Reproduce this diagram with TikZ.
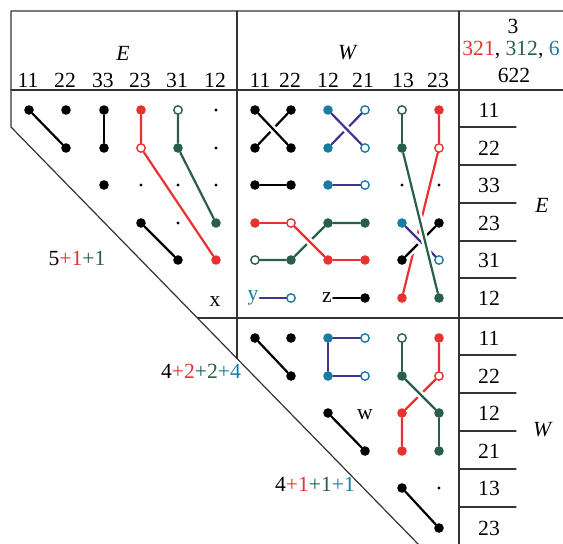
\documentclass[tikz,border=0pt]{standalone}
\usepackage{fontspec}
\setmainfont{Liberation Serif}
\definecolor{dred}{RGB}{232,50,50}
\definecolor{dgreen}{RGB}{40,95,72}
\definecolor{dteal}{RGB}{26,124,160}
\definecolor{dblue}{RGB}{62,52,146}

\begin{document}
\begin{tikzpicture}[x=0.5pt,y=-0.5pt,line cap=round,line join=round,
  dotf/.style={circle,fill=#1,inner sep=0pt,minimum size=4.8pt},
  doto/.style={circle,draw=#1,fill=white,line width=0.7pt,inner sep=0pt,minimum size=4.2pt},
  tiny/.style={circle,fill=black,inner sep=0pt,minimum size=1.7pt},
  lnk/.style={line width=1.1pt,draw=#1},
  over/.style={preaction={draw=white,line width=3.6pt,shorten >=2.5pt,shorten <=2.5pt}},
  rule/.style={line width=0.6pt,black!80},
  lab/.style={font=\fontsize{10.8}{13}\selectfont,inner sep=0.5pt},
  ilab/.style={font=\fontsize{10.8}{13}\selectfont\itshape,inner sep=0.5pt}]
\useasboundingbox (0,0) rectangle (563,543);
% frame
\draw[rule] (563,11)--(11,11)--(11,127)--(420,546);
\draw[rule] (11,90)--(563,90);
\draw[rule] (197.4,318)--(563,318);
\draw[rule] (237,11)--(237,358.6);
\draw[rule] (459,11)--(459,546);
\foreach \y in {127,165,203,241,278,355,393,431,469,507}{\draw[rule] (459,\y)--(516,\y);}
% headers
\node[ilab] (hE) at (123,53) {E};
\node[ilab] (hW) at (347,53) {W};
\foreach \x/\t in {28/11,65/22,103/33,140/23,177/31,215/12}{\node[lab] (he\t) at (\x,80) {\t};}
\foreach \x/\t in {260/11,290/22,328/12,363/21,403/13,438/23}{\node[lab] (hw\t) at (\x,80) {\t};}
\node[lab] (h3) at (513,26) {3};
\node[lab,anchor=west] (hcol) at (461,50) {\textcolor{dred}{321}, \textcolor{dgreen}{312}, \textcolor{dteal}{6}};
\node[lab] (h622) at (514,75) {622};
\foreach \y/\t in {110/11,148/22,185/33,223/23,260/31,298/12}{\node[lab] (rE\t) at (489,\y) {\t};}
\foreach \y/\t in {338/11,376/22,413/12,451/21,488/13,528/23}{\node[lab] (rW\t) at (489,\y) {\t};}
\node[ilab] (rE) at (542,205) {E};
\node[ilab] (rW) at (542,430) {W};
% E x E block
\node[dotf=black] (EE-1-1) at (29,110) {};
\node[dotf=black] (EE-2-1) at (66,110) {};
\node[dotf=black] (EE-2-2) at (66,148) {};
\node[dotf=black] (EE-3-1) at (104,110) {};
\node[dotf=black] (EE-3-2) at (104,148) {};
\node[dotf=black] (EE-3-3) at (104,185) {};
\node[dotf=dred] (EE-4-1) at (141,110) {};
\node[doto=dred] (EE-4-2) at (141,148) {};
\node[tiny] (EE-4-3) at (141,185) {};
\node[dotf=black] (EE-4-4) at (141,223) {};
\node[doto=dgreen] (EE-5-1) at (178,110) {};
\node[dotf=dgreen] (EE-5-2) at (178,148) {};
\node[tiny] (EE-5-3) at (178,185) {};
\node[tiny] (EE-5-4) at (178,223) {};
\node[dotf=black] (EE-5-5) at (178,260) {};
\foreach \r/\y in {1/110,2/148,3/185}{\node[tiny] (EE-6-\r) at (216,\y) {};}
\node[dotf=dgreen] (EE-6-4) at (216,223) {};
\node[dotf=dred] (EE-6-5) at (216,260) {};
\node[lab] (xlab) at (215,302) {x};
\draw[lnk=black] (EE-1-1)--(EE-2-2);
\draw[lnk=black] (EE-3-1)--(EE-3-2);
\draw[lnk=black] (EE-4-4)--(EE-5-5);
\draw[lnk=dred] (EE-4-1)--(EE-4-2)--(EE-6-5);
\draw[lnk=dgreen] (EE-5-1)--(EE-5-2)--(EE-6-4);
\node[lab] (sumE) at (77,258) {5\textcolor{dred}{+1}\textcolor{dgreen}{+1}};
% W x E block
\node[dotf=black] (WE-1-1) at (255,110) {};
\node[dotf=black] (WE-2-1) at (291,110) {};
\node[dotf=black] (WE-1-2) at (255,148) {};
\node[dotf=black] (WE-2-2) at (291,148) {};
\node[dotf=black] (WE-1-3) at (255,185) {};
\node[dotf=black] (WE-2-3) at (291,185) {};
\node[dotf=dred] (WE-1-4) at (255,223) {};
\node[doto=dred] (WE-2-4) at (291,223) {};
\node[dotf=dred] (WE-3-5) at (328,260) {};
\node[dotf=dred] (WE-4-5) at (365,260) {};
\node[doto=dgreen] (WE-1-5) at (255,260) {};
\node[dotf=dgreen] (WE-2-5) at (291,260) {};
\node[dotf=dgreen] (WE-3-4) at (328,223) {};
\node[dotf=dgreen] (WE-4-4) at (365,223) {};
\node[lab,text=dteal] (ylab) at (253,298) {y};
\node[doto=dteal] (WE-2-6) at (291,298) {};
\node[lab] (zlab) at (327,298) {z};
\node[dotf=black] (WE-4-6) at (365,298) {};
\node[dotf=dteal] (WE-3-1) at (328,110) {};
\node[doto=dteal] (WE-4-1) at (365,110) {};
\node[dotf=dteal] (WE-3-2) at (328,148) {};
\node[doto=dteal] (WE-4-2) at (365,148) {};
\node[dotf=dteal] (WE-3-3) at (328,185) {};
\node[doto=dteal] (WE-4-3) at (365,185) {};
\node[doto=dgreen] (WE-5-1) at (402,110) {};
\node[dotf=dgreen] (WE-5-2) at (402,148) {};
\node[dotf=dred] (WE-6-1) at (439,110) {};
\node[doto=dred] (WE-6-2) at (439,148) {};
\node[tiny] (WE-5-3) at (402,185) {};
\node[tiny] (WE-6-3) at (439,185) {};
\node[dotf=dteal] (WE-5-4) at (402,223) {};
\node[dotf=black] (WE-6-4) at (439,223) {};
\node[dotf=black] (WE-5-5) at (402,260) {};
\node[doto=dteal] (WE-6-5) at (439,260) {};
\node[dotf=dred] (WE-5-6) at (402,298) {};
\node[dotf=dgreen] (WE-6-6) at (439,298) {};
\draw[lnk=black] (WE-1-2)--(WE-2-1);
\draw[lnk=black,over] (WE-1-1)--(WE-2-2);
\draw[lnk=black] (WE-1-3)--(WE-2-3);
\draw[lnk=dblue] (WE-3-2)--(WE-4-1);
\draw[lnk=dblue,over] (WE-3-1)--(WE-4-2);
\draw[lnk=dblue] (WE-3-3)--(WE-4-3);
\draw[lnk=dgreen] (WE-1-5)--(WE-2-5)--(WE-3-4)--(WE-4-4);
\draw[lnk=dred,over] (WE-1-4)--(WE-2-4);
\draw[lnk=dred,over] (WE-2-4)--(WE-3-5);
\draw[lnk=dred] (WE-3-5)--(WE-4-5);
\draw[lnk=dblue] (ylab)--(WE-2-6);
\draw[lnk=black] (zlab)--(WE-4-6);
\draw[lnk=dred] (WE-6-1)--(WE-6-2)--(WE-5-6);
\draw[lnk=black,over] (WE-5-5)--(WE-6-4);
\draw[lnk=dblue,over] (WE-5-4)--(WE-6-5);
\draw[lnk=dgreen] (WE-5-1)--(WE-5-2);
\draw[lnk=dgreen,over] (WE-5-2)--(WE-6-6);
% W x W block
\node[dotf=black] (WW-1-1) at (255,338) {};
\node[dotf=black] (WW-2-1) at (291,338) {};
\node[dotf=black] (WW-2-2) at (291,376) {};
\node[dotf=dteal] (WW-3-1) at (328,338) {};
\node[doto=dteal] (WW-4-1) at (365,338) {};
\node[dotf=dteal] (WW-3-2) at (328,376) {};
\node[doto=dteal] (WW-4-2) at (365,376) {};
\node[dotf=black] (WW-3-3) at (328,413) {};
\node[dotf=black] (WW-4-4) at (365,451) {};
\node[lab] (wlab) at (365,415) {w};
\node[doto=dgreen] (WW-5-1) at (402,338) {};
\node[dotf=dgreen] (WW-5-2) at (402,376) {};
\node[dotf=dgreen] (WW-6-3) at (439,413) {};
\node[dotf=dgreen] (WW-6-4) at (439,451) {};
\node[dotf=dred] (WW-6-1) at (439,338) {};
\node[doto=dred] (WW-6-2) at (439,376) {};
\node[dotf=dred] (WW-5-3) at (402,413) {};
\node[dotf=dred] (WW-5-4) at (402,451) {};
\node[dotf=black] (WW-5-5) at (402,488) {};
\node[tiny] (WW-6-5) at (439,488) {};
\node[dotf=black] (WW-6-6) at (439,528) {};
\draw[lnk=black] (WW-1-1)--(WW-2-2);
\draw[lnk=dblue] (WW-4-1)--(WW-3-1)--(WW-3-2)--(WW-4-2);
\draw[lnk=black] (WW-3-3)--(WW-4-4);
\draw[lnk=dred] (WW-6-1)--(WW-6-2)--(WW-5-3)--(WW-5-4);
\draw[lnk=dgreen] (WW-5-1)--(WW-5-2);
\draw[lnk=dgreen,over] (WW-5-2)--(WW-6-3);
\draw[lnk=dgreen] (WW-6-3)--(WW-6-4);
\draw[lnk=black] (WW-5-5)--(WW-6-6);
\node[lab] (sumA) at (201,371) {4\textcolor{dred}{+2}\textcolor{dgreen}{+2}\textcolor{dteal}{+4}};
\node[lab] (sumB) at (315,484) {4\textcolor{dred}{+1}\textcolor{dgreen}{+1}\textcolor{dteal}{+1}};
\end{tikzpicture}
\end{document}
